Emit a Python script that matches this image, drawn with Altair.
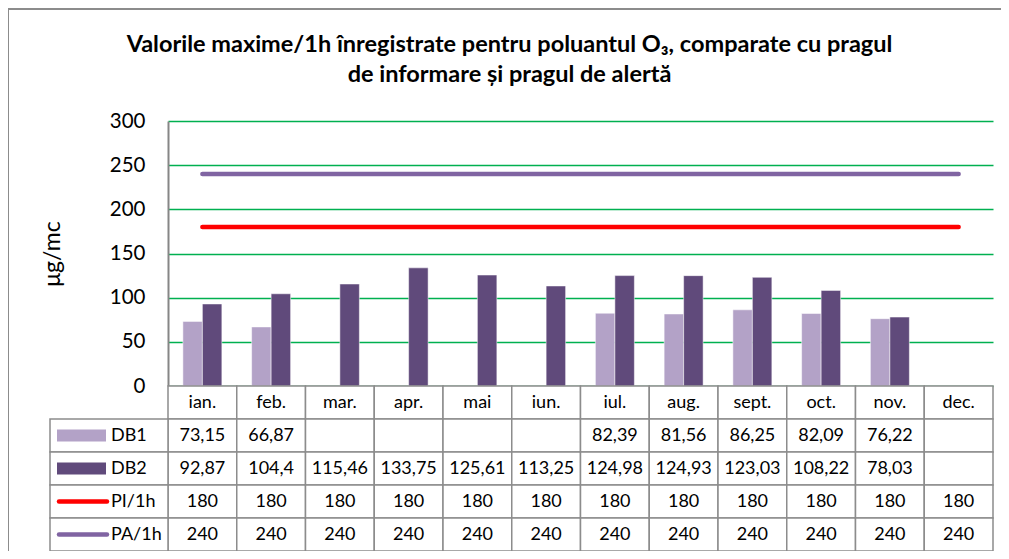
import altair as alt
import pandas as pd

# ---------------- data ----------------
months = ["ian.", "feb.", "mar.", "apr.", "mai", "iun.", "iul.", "aug.", "sept.", "oct.", "nov.", "dec."]
db1 = [73.15, 66.87, None, None, None, None, 82.39, 81.56, 86.25, 82.09, 76.22, None]
db2 = [92.87, 104.4, 115.46, 133.75, 125.61, 113.25, 124.98, 124.93, 123.03, 108.22, 78.03, None]
pi_1h = [180, 180, 180, 180, 180, 180, 180, 180, 180, 180, 180, 180]
pa_1h = [240, 240, 240, 240, 240, 240, 240, 240, 240, 240, 240, 240]
series_names = ["DB1", "DB2", "PI/1h", "PA/1h"]
series_colors = ["#B3A2C7", "#604A7B", "#FF0000", "#8064A2"]
y_ticks = [0, 50, 100, 150, 200, 250, 300]
title_lines = ["Valorile maxime/1h înregistrate pentru poluantul O₃, comparate cu pragul",
               "de informare și pragul de alertă"]
y_title = "μg/mc"
header_row = "hdr"

# ---------------- layout (pixels inside the chart) ----------------
W, H = 993, 543
PLOT_X0, PLOT_X1 = 160, 985
PLOT_TOP, PLOT_BOTTOM = 113, 378
TABLE_BOTTOM = 543
LEG_X0 = 42
SW_X0, SW_X1 = 49, 98
LEG_TEXT_X = 103
FONT = "Lato"
GRAY = "#8C8C8C"

# ---------------- tables ----------------
values_by_series = {"DB1": db1, "DB2": db2, "PI/1h": pi_1h, "PA/1h": pa_1h}
long_rows = []
for s in series_names:
    for i, (m, v) in enumerate(zip(months, values_by_series[s])):
        long_rows.append({"month": m, "idx": i, "series": s, "v": v})
df = pd.DataFrame(long_rows)
df_bars = df[df["series"].isin(["DB1", "DB2"]) & df["v"].notna()]
df_lines = df[df["series"].isin(["PI/1h", "PA/1h"])]


def fmt(v):
    if v is None or pd.isna(v):
        return ""
    return str(v).replace(".", ",")


cell_rows = []
for i, m in enumerate(months):
    cell_rows.append({"month": m, "row": header_row, "label": m})
    for s in series_names:
        cell_rows.append({"month": m, "row": s, "label": fmt(values_by_series[s][i])})
df_cells = pd.DataFrame(cell_rows)
df_leg = pd.DataFrame({"row": series_names})

# ---------------- scales ----------------
xs = alt.Scale(domain=months, range=[PLOT_X0, PLOT_X1], paddingInner=0, paddingOuter=0)
ys = alt.Scale(domain=[0, 300], range=[PLOT_BOTTOM, PLOT_TOP], nice=False, zero=True)
rs = alt.Scale(domain=[header_row] + series_names, range=[PLOT_BOTTOM, TABLE_BOTTOM],
               paddingInner=0, paddingOuter=0)
cs = alt.Scale(domain=series_names, range=series_colors)

# ---------------- layers ----------------
frame_data = alt.Data(values=[{}])
frame_top = alt.Chart(frame_data).mark_rule(color=GRAY, strokeWidth=2).encode(
    x=alt.value(0), x2=alt.value(W), y=alt.value(1))
frame_left = alt.Chart(frame_data).mark_rule(color=GRAY, strokeWidth=2).encode(
    x=alt.value(0), y=alt.value(0), y2=alt.value(H))

bars = alt.Chart(df_bars).mark_bar(stroke="white", strokeWidth=0.5).encode(
    x=alt.X("month:N", scale=xs, axis=None, sort=months),
    xOffset=alt.XOffset("series:N", scale=alt.Scale(domain=["DB1", "DB2"], paddingInner=0, paddingOuter=0.764)),
    y=alt.Y("v:Q", scale=ys, axis=alt.Axis(
        values=y_ticks, offset=-PLOT_X0, ticks=False, labelPadding=23,
        domainColor="#868686", domainWidth=2, grid=True, gridColor="#00B050", gridWidth=1.5,
        labelFont=FONT, labelFontSize=20.5, labelColor="black",
        title=y_title, titleFont=FONT, titleFontSize=23, titleFontWeight="normal",
        titleColor="black", titlePadding=45)),
    color=alt.Color("series:N", scale=cs, legend=None),
)

lines = alt.Chart(df_lines).mark_line(strokeWidth=4.5, strokeCap="round").encode(
    x=alt.X("month:N", scale=xs, axis=None, bandPosition=0.5, sort=months),
    y=alt.Y("v:Q", scale=ys, axis=None),
    color=alt.Color("series:N", scale=cs, legend=None),
    order="idx:Q",
)

cells = alt.Chart(df_cells).mark_rect(fill="white", stroke=GRAY, strokeWidth=1.5).encode(
    x=alt.X("month:N", scale=xs, axis=None, sort=months),
    y=alt.Y("row:N", scale=rs, axis=None),
)
cell_text = alt.Chart(df_cells).mark_text(font=FONT, fontSize=18, color="black",
                                          align="center", baseline="middle").encode(
    x=alt.X("month:N", scale=xs, axis=None, bandPosition=0.5, sort=months),
    y=alt.Y("row:N", scale=rs, axis=None, bandPosition=0.5),
    text="label:N",
)

leg_cells = alt.Chart(df_leg).mark_rect(fill="white", stroke=GRAY, strokeWidth=1.5).encode(
    x=alt.value(LEG_X0), x2=alt.value(PLOT_X0),
    y=alt.Y("row:N", scale=rs, axis=None),
)
sw_bars = alt.Chart(df_leg).transform_filter(
    alt.FieldOneOfPredicate(field="row", oneOf=["DB1", "DB2"])
).mark_rule(strokeWidth=12, strokeCap="butt").encode(
    x=alt.value(SW_X0), x2=alt.value(SW_X1),
    y=alt.Y("row:N", scale=rs, axis=None, bandPosition=0.5),
    color=alt.Color("row:N", scale=cs, legend=None),
)
sw_lines = alt.Chart(df_leg).transform_filter(
    alt.FieldOneOfPredicate(field="row", oneOf=["PI/1h", "PA/1h"])
).mark_rule(strokeWidth=4.5, strokeCap="round").encode(
    x=alt.value(SW_X0 + 2), x2=alt.value(SW_X1 + 1),
    y=alt.Y("row:N", scale=rs, axis=None, bandPosition=0.5),
    color=alt.Color("row:N", scale=cs, legend=None),
)
leg_text = alt.Chart(df_leg).mark_text(font=FONT, fontSize=18, color="black",
                                       align="left", baseline="middle").encode(
    x=alt.value(LEG_TEXT_X),
    y=alt.Y("row:N", scale=rs, axis=None, bandPosition=0.5),
    text="row:N",
)

chart = alt.layer(
    frame_top, frame_left, bars, lines, cells, cell_text, leg_cells, sw_bars, sw_lines, leg_text
).resolve_scale(y="independent").properties(
    width=W, height=H,
    autosize=alt.AutoSizeParams(type="none"),
    padding=0,
    title=alt.TitleParams(text=title_lines, font=FONT, fontSize=23.5, fontWeight="bold",
                          color="black", anchor="middle", frame="group", offset=-79,
                          dx=5, lineHeight=30),
).configure_view(stroke=None).configure(background="white")

chart.save("out.html", embed_options={"renderer": "svg", "actions": False})
